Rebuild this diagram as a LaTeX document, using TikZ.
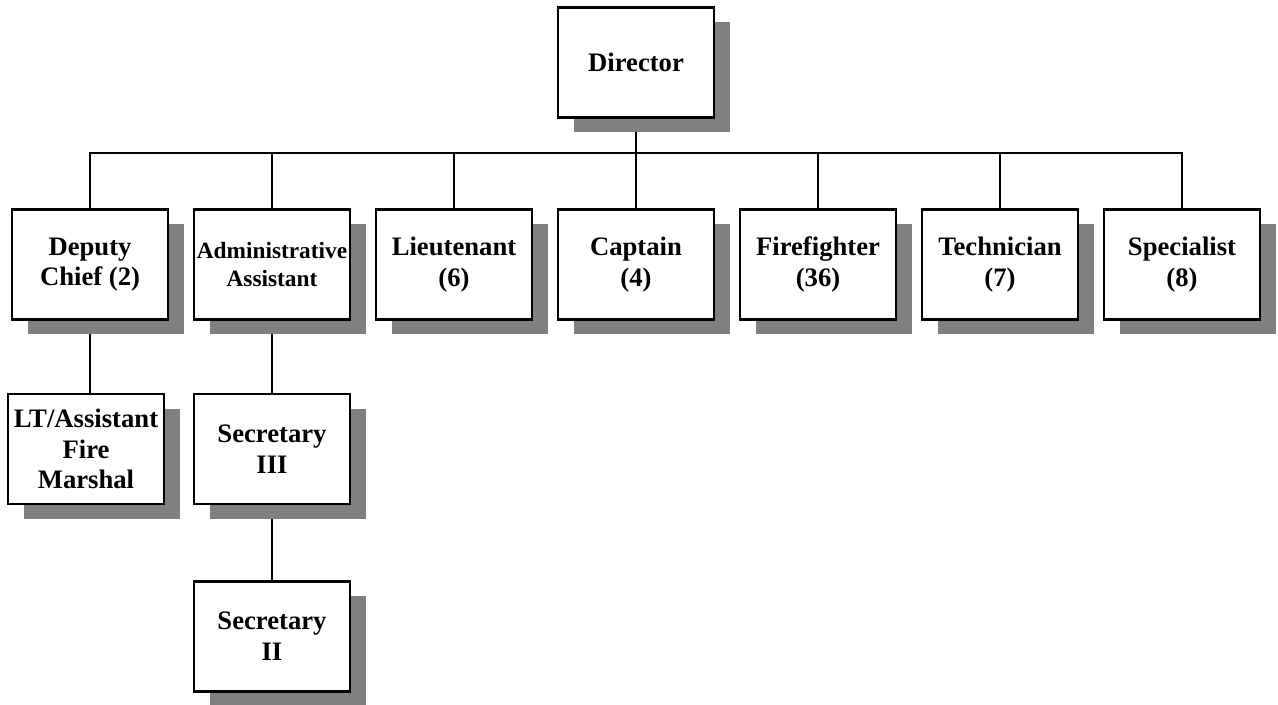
\documentclass[tikz,border=0pt]{standalone}
\usepackage{fontspec}
\setmainfont{Liberation Serif}
\usepackage{tikz}
\usetikzlibrary{positioning,shadows,backgrounds}
\definecolor{cshadow}{RGB}{128,128,128}

\begin{document}
\begin{tikzpicture}[
  x=0.75pt, y=-0.75pt,
  font=\fontsize{20}{23}\selectfont\bfseries,
  box/.style={draw, line width=1.9pt, fill=white, align=center, inner sep=2pt,
              minimum width=117pt, minimum height=82.5pt,
              drop shadow={shadow xshift=12pt, shadow yshift=-11.25pt, fill=cshadow, opacity=1}},
  link/.style={line width=1.1pt},
  node distance=17.6pt,
]
\useasboundingbox (0,0) rectangle (1278,705);

% --- top ---
\node[box] (dir) at (636,62.5) {Director};

% --- first row ---
\node[box] (dep) at (90,264.5) {Deputy\\Chief (2)};
\node[box, right=of dep, font=\fontsize{17.5}{21}\selectfont\bfseries] (adm) {Administrative\\Assistant};
\node[box, right=of adm] (lt) {Lieutenant\\(6)};
\node[box, right=of lt] (cap) {Captain\\(4)};
\node[box, right=of cap] (ff) {Firefighter\\(36)};
\node[box, right=of ff] (tech) {Technician\\(7)};
\node[box, right=of tech] (spec) {Specialist\\(8)};

% --- second and third rows ---
\node[box, below=54pt of dep, xshift=-3pt] (ltfm) {LT/Assistant\\Fire\\Marshal};
\node[box, below=54pt of adm] (sec3) {Secretary\\III};
\node[box, below=56pt of sec3] (sec2) {Secretary\\II};

% --- connectors ---
\begin{scope}[on background layer]
  \coordinate (bus) at (636,153);
  \draw[link] (dir) -- (bus);
  \foreach \n in {dep,adm,lt,cap,ff,tech,spec}
    \draw[link] (bus) -| (\n.north);
  \draw[link] (dep.south) -- (dep.south |- ltfm.north);
  \draw[link] (adm) -- (sec3);
  \draw[link] (sec3) -- (sec2);
\end{scope}
\end{tikzpicture}
\end{document}
